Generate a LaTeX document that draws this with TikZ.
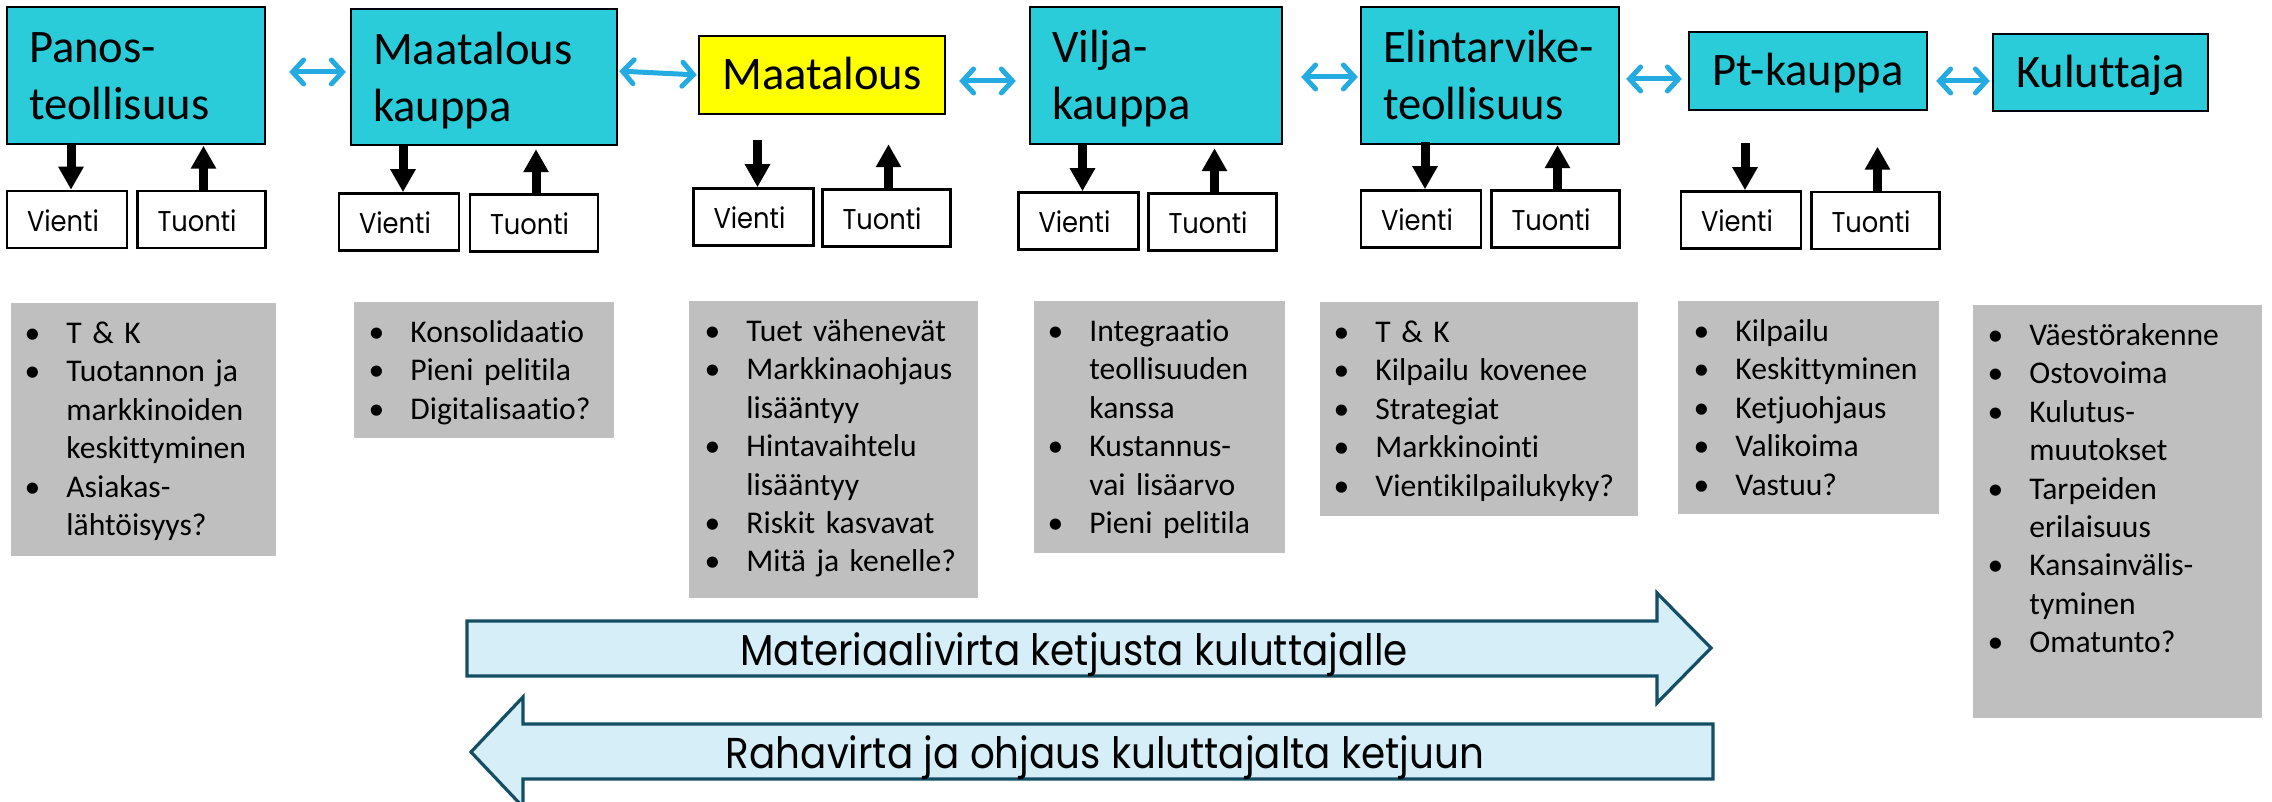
\documentclass[tikz,border=0pt]{standalone}
\usepackage{fontspec}
\setmainfont{Carlito}[Ligatures=NoCommon]
\newfontfamily\twc[FakeStretch=0.9]{Poppins}
\usetikzlibrary{arrows.meta,calc}
\definecolor{cyanbox}{RGB}{41,204,216}
\definecolor{yellowbox}{RGB}{255,255,0}
\definecolor{arrowblue}{RGB}{35,171,226}
\definecolor{graybg}{RGB}{191,191,191}
\definecolor{bigfill}{RGB}{214,238,248}
\definecolor{bigborder}{RGB}{19,78,100}
\newcommand\bul{\leavevmode\llap{\textbullet\hspace{13pt}}}
\tikzset{
  mainbox/.style={draw=black, line width=1.2pt, fill=cyanbox, inner ysep=0pt,
    font=\fontsize{23.3pt}{28.5pt}\selectfont},
  twoline/.style={align=left, inner xsep=11pt, text height=15pt, text depth=27.5pt},
  oneline/.style={align=center, inner xsep=0pt, text height=15pt, text depth=0pt},
  tradebox/.style={draw=black, line width=1.3pt, fill=white, inner ysep=0pt, inner xsep=10pt,
    align=left, text height=12pt, text depth=0pt, minimum height=28.5pt,
    font=\twc\fontsize{14.3pt}{17pt}\selectfont},
  vbox/.style={tradebox, text width=40pt, minimum width=60pt},
  tbox/.style={tradebox, text width=44pt, minimum width=64pt},
  graybox/.style={fill=graybg, inner sep=0pt, anchor=north west},
  graytext/.style={anchor=north west, inner sep=0pt, align=left, text width=200pt,
    font=\fontsize{15.8pt}{19.2pt}\selectfont},
  blk/.style={line width=4.5pt, -{Triangle[width=12pt,length=11.5pt]}},
  biarr/.style={draw=arrowblue, line width=2.5pt, line cap=round,
    {Straight Barb[length=5.5pt,width=12pt,line cap=round]}-{Straight Barb[length=5.5pt,width=12pt,line cap=round]}},
  bigarrow/.style={draw=bigborder, fill=bigfill, line width=1.6pt, line join=miter},
  arrowtext/.style={font=\twc\fontsize{21.6pt}{25pt}\selectfont, inner sep=0pt, anchor=base}
}
\begin{document}
\begin{tikzpicture}[x=0.5pt,y=-0.5pt]
\useasboundingbox (0,0) rectangle (2272,802);
\clip (0,0) rectangle (2272,802);

% main chain
\node[mainbox, twoline, minimum width=129pt, minimum height=68.5pt, text width=107pt] (panos) at (136,75.5) {Panos-\\teollisuus};
\node[mainbox, twoline, minimum width=133pt, minimum height=68pt, text width=111pt] (mkauppa) at (484,77) {Maatalous\\kauppa};
\node[mainbox, oneline, fill=yellowbox, minimum width=123pt, minimum height=39pt] (maatalous) at (822,75) {Maatalous};
\node[mainbox, twoline, minimum width=126pt, minimum height=68.5pt, text width=104pt] (vilja) at (1156,75.5) {Vilja-\\kauppa};
\node[mainbox, twoline, minimum width=129pt, minimum height=68.5pt, text width=107pt] (elintarvike) at (1490,75.5) {Elintarvike-\\teollisuus};
\node[mainbox, oneline, minimum width=119pt, minimum height=39pt] (ptkauppa) at (1808,71) {Pt-kauppa};
\node[mainbox, oneline, minimum width=107.5pt, minimum height=38.5pt] (kuluttaja) at (2100.5,72.5) {Kuluttaja};

% blue double arrows
\draw[biarr, shorten <=11.5pt, shorten >=2pt] (panos.east |- 0,72) -- (mkauppa.west |- 0,72);
\draw[biarr, shorten <=0.5pt, shorten >=0.5pt] (mkauppa.east |- 0,71) -- (maatalous.west |- 0,75);
\draw[biarr, shorten <=6.5pt, shorten >=6.5pt] (maatalous.east |- 0,81) -- (vilja.west |- 0,81);
\draw[biarr, shorten <=9pt, shorten >=1pt] (vilja.east |- 0,77) -- (elintarvike.west |- 0,77);
\draw[biarr, shorten <=3pt, shorten >=3pt] (elintarvike.east |- 0,79) -- (ptkauppa.west |- 0,79);
\draw[biarr, shorten <=4pt, shorten >=1pt] (ptkauppa.east |- 0,81) -- (kuluttaja.west |- 0,81);

% export / import boxes
\node[vbox] (pV) at (67,219.5) {Vienti};
\node[tbox] (pT) at (201.5,219.5) {Tuonti};
\node[vbox] (mkV) at (399,222) {Vienti};
\node[tbox] (mkT) at (534,223) {Tuonti};
\node[vbox] (mV) at (753.5,217) {Vienti};
\node[tbox] (mT) at (886.5,218) {Tuonti};
\node[vbox] (vV) at (1078.5,221) {Vienti};
\node[tbox] (vT) at (1212.5,222) {Tuonti};
\node[vbox] (eV) at (1421,219) {Vienti};
\node[tbox] (eT) at (1555.5,219) {Tuonti};
\node[vbox] (ptV) at (1741,220) {Vienti};
\node[tbox] (ptT) at (1875.5,220.5) {Tuonti};

% black arrows
\foreach \v in {pV,mkV,mV,vV,eV,ptV}{
  \draw[blk] ([xshift=2pt,yshift=23.5pt]\v.north) -- ([xshift=2pt]\v.north);
}
\foreach \t in {pT,mkT,mT,vT,eT,ptT}{
  \draw[blk] ([xshift=1pt]\t.north) -- ([xshift=1pt,yshift=22pt]\t.north);
}

% grey boxes
\node[graybox, minimum width=132.5pt, minimum height=126.5pt] (g1) at (11,303) {};
\node[graybox, minimum width=130pt, minimum height=68pt] (g2) at (354,302) {};
\node[graybox, minimum width=144.5pt, minimum height=148.5pt] (g3) at (689,301) {};
\node[graybox, minimum width=125.5pt, minimum height=126pt] (g4) at (1034,301) {};
\node[graybox, minimum width=159pt, minimum height=107pt] (g5) at (1320,302) {};
\node[graybox, minimum width=130.5pt, minimum height=106.5pt] (g6) at (1678,301) {};
\node[graybox, minimum width=144.5pt, minimum height=206.5pt] (g7) at (1973,305) {};

\node[graytext] (g1t) at ([xshift=27.5pt,yshift=-6.6pt]g1.north west) {\strut\bul T \& K\\ \bul Tuotannon ja\\ markkinoiden\\ keskittyminen\\ \bul Asiakas-\\ lähtöisyys?};
\node[graytext] (g2t) at ([xshift=28pt,yshift=-6.6pt]g2.north west) {\strut\bul Konsolidaatio\\ \bul Pieni pelitila\\ \bul Digitalisaatio?};
\node[graytext] (g3t) at ([xshift=28.5pt,yshift=-6.6pt]g3.north west) {\strut\bul Tuet vähenevät\\ \bul Markkinaohjaus\\ lisääntyy\\ \bul Hintavaihtelu\\ lisääntyy\\ \bul Riskit kasvavat\\ \bul Mitä ja kenelle?};
\node[graytext] (g4t) at ([xshift=27.5pt,yshift=-6.6pt]g4.north west) {\strut\bul Integraatio\\ teollisuuden\\ kanssa\\ \bul Kustannus-\\ vai lisäarvo\\ \bul Pieni pelitila};
\node[graytext] (g5t) at ([xshift=27.5pt,yshift=-6.6pt]g5.north west) {\strut\bul T \& K\\ \bul Kilpailu kovenee\\ \bul Strategiat\\ \bul Markkinointi\\ \bul Vientikilpailukyky?};
\node[graytext] (g6t) at ([xshift=28.5pt,yshift=-6.6pt]g6.north west) {\strut\bul Kilpailu\\ \bul Keskittyminen\\ \bul Ketjuohjaus\\ \bul Valikoima\\ \bul Vastuu?};
\node[graytext] (g7t) at ([xshift=28pt,yshift=-6.6pt]g7.north west) {\strut\bul Väestörakenne\\ \bul Ostovoima\\ \bul Kulutus-\\ muutokset\\ \bul Tarpeiden\\ erilaisuus\\ \bul Kansainvälis-\\ tyminen\\ \bul Omatunto?};

% big flow arrows
\draw[bigarrow] (467,621) -- (1657,621) -- (1657,593) -- (1711,648) -- (1657,703) -- (1657,676) -- (467,676) -- cycle;
\draw[bigarrow] (1713,724) -- (523,724) -- (523,697) -- (471,752) -- (523,807) -- (523,779) -- (1713,779) -- cycle;
\node[arrowtext] (mat) at (1074,665) {Materiaalivirta ketjusta kuluttajalle};
\node[arrowtext] (raha) at (1105,768) {Rahavirta ja ohjaus kuluttajalta ketjuun};
\end{tikzpicture}
\end{document}
